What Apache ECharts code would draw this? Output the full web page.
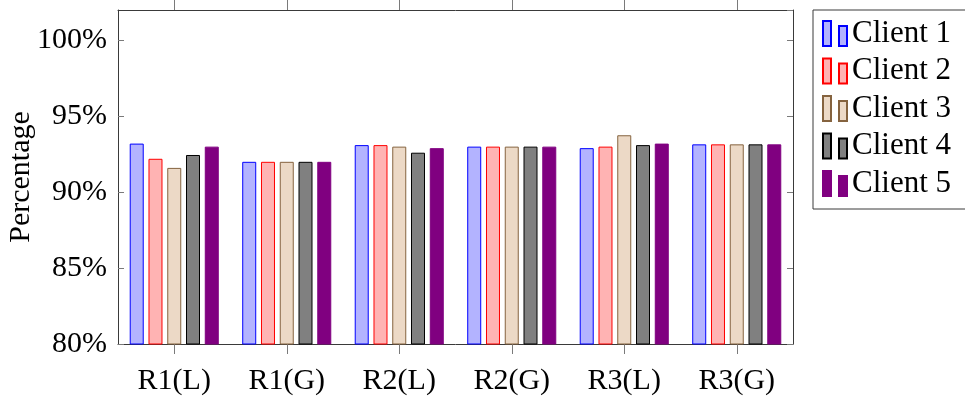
<!DOCTYPE html>
<html>
<head>
<meta charset="utf-8">
<script src="https://cdn.jsdelivr.net/npm/echarts@6/dist/echarts.min.js"></script>
<style>
  html, body { margin: 0; padding: 0; background: #fff; }
  #chart { width: 965px; height: 403px; }
</style>
</head>
<body>
<div id="chart"></div>
<script>
// Per-round accuracy (%) for each client
const categories = ['R1(L)', 'R1(G)', 'R2(L)', 'R2(G)', 'R3(L)', 'R3(G)'];
const clientNames = ['Client 1', 'Client 2', 'Client 3', 'Client 4', 'Client 5'];
const client1 = [93.2, 92.0, 93.1, 93.0, 92.9, 93.15];
const client2 = [92.2, 92.0, 93.1, 93.0, 93.0, 93.15];
const client3 = [91.6, 92.0, 93.0, 93.0, 93.75, 93.15];
const client4 = [92.45, 92.0, 92.6, 93.0, 93.1, 93.15];
const client5 = [93.0, 92.0, 92.9, 93.0, 93.2, 93.15];
const yTicks = [80, 85, 90, 95, 100];

const seriesValues = [client1, client2, client3, client4, client5];
const fills = ['#b3b3ff', '#ffb3b3', '#ecd9c6', '#808080', '#800080'];
const strokes = ['#0000ff', '#ff0000', '#85633f', '#000000', '#800080'];

const FONT = '"Liberation Serif", "Times New Roman", serif';
const frameColor = '#3a3a3a';
const tickColor = '#7a7a7a';

const chart = echarts.init(document.getElementById('chart'), null, { renderer: 'canvas' });

const yCommon = {
  type: 'value',
  min: yTicks[0],
  max: 102,
  interval: 5,
  splitLine: { show: false },
  axisLine: { show: true, lineStyle: { color: frameColor, width: 1 } },
  axisTick: { show: true, inside: true, length: 6, lineStyle: { color: tickColor, width: 1 } }
};

chart.setOption({
  animation: false,
  backgroundColor: '#ffffff',
  textStyle: { fontFamily: FONT },
  grid: { left: 118, right: 172, top: 10, bottom: 59, containLabel: false, outerBoundsMode: 'none' },
  legend: {
    orient: 'vertical',
    left: 813,
    top: 10,
    padding: [8, 24, 10, 9],
    itemGap: 6.5,
    itemWidth: 24,
    itemHeight: 25,
    borderColor: frameColor,
    borderWidth: 1,
    icon: 'path://M0,0H8V25H0Z M16,5H24V25H16Z',
    textStyle: { fontFamily: FONT, fontSize: 31, color: '#000', lineHeight: 30 },
    data: clientNames
  },
  xAxis: [
    {
      type: 'category',
      data: categories,
      position: 'bottom',
      axisLine: { show: true, lineStyle: { color: frameColor, width: 1 } },
      axisTick: { show: true, alignWithLabel: true, length: 10, lineStyle: { color: tickColor, width: 1 } },
      axisLabel: { fontFamily: FONT, fontSize: 30, color: '#000', margin: 22 }
    },
    {
      type: 'category',
      data: categories,
      position: 'top',
      axisLine: { show: true, lineStyle: { color: frameColor, width: 1 } },
      axisTick: { show: true, alignWithLabel: true, length: 10, lineStyle: { color: tickColor, width: 1 } },
      axisLabel: { show: false }
    }
  ],
  yAxis: [
    Object.assign({}, yCommon, {
      position: 'left',
      name: 'Percentage',
      nameLocation: 'middle',
      nameMoveOverlap: false,
      nameGap: 82,
      nameTextStyle: { fontFamily: FONT, fontSize: 30, color: '#000' },
      axisLabel: {
        fontFamily: FONT, fontSize: 30, color: '#000', margin: 11,
        showMaxLabel: false,
        formatter: v => (yTicks.indexOf(v) >= 0 ? v + '%' : '')
      }
    }),
    Object.assign({}, yCommon, {
      position: 'right',
      axisLabel: { show: false }
    })
  ],
  series: seriesValues.map((vals, i) => ({
    name: clientNames[i],
    type: 'bar',
    xAxisIndex: 0,
    yAxisIndex: 0,
    data: vals,
    barWidth: 14,
    barGap: '34%',
    itemStyle: { color: fills[i], borderColor: strokes[i], borderWidth: 1 }
  }))
});
</script>
</body>
</html>
